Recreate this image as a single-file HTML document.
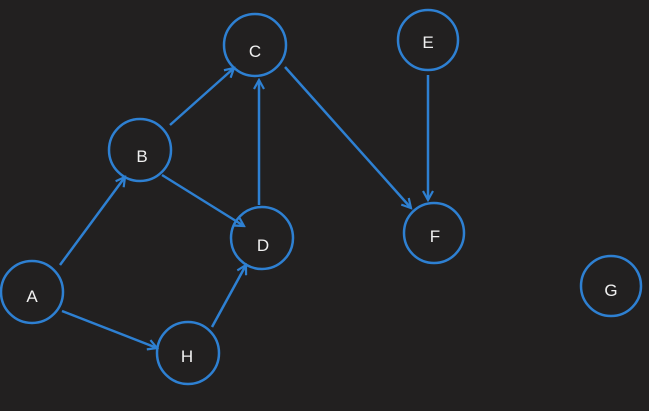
<!DOCTYPE html><html><head><style>body{margin:0;background:#222020}svg{display:block}</style></head><body>
<svg width="649" height="411" viewBox="0 0 649 411" xmlns="http://www.w3.org/2000/svg">
<rect width="649" height="411" fill="#222020"/>
<defs><marker id="a" markerWidth="12" markerHeight="12" refX="10" refY="6" orient="auto" markerUnits="userSpaceOnUse"><path d="M1,1 L10,6 L1,11" fill="none" stroke="#2e80d2" stroke-width="2.2"/></marker></defs>
<g fill="none" stroke="#2e80d2" stroke-width="2.5">
<circle cx="255" cy="45" r="31"/><circle cx="428" cy="40" r="30"/><circle cx="140" cy="150" r="31"/>
<circle cx="262" cy="238" r="31"/><circle cx="434" cy="233" r="30"/><circle cx="32" cy="292" r="31"/>
<circle cx="188" cy="353" r="31"/><circle cx="611" cy="286" r="30"/>
<g marker-end="url(#a)">
<line x1="60" y1="265" x2="125" y2="177"/><line x1="62" y1="311" x2="157" y2="348"/>
<line x1="212" y1="327" x2="246" y2="265"/><line x1="170" y1="125" x2="234" y2="68"/>
<line x1="162" y1="175" x2="244" y2="226"/><line x1="259" y1="205" x2="259" y2="80"/>
<line x1="285" y1="67" x2="411" y2="208"/><line x1="428" y1="75" x2="428" y2="200"/>
</g></g>
<g fill="#f0f0f0" font-family="Liberation Sans, sans-serif" font-size="17" text-anchor="middle">
<text x="255" y="57">C</text><text x="428" y="48">E</text><text x="142" y="162">B</text>
<text x="263" y="251">D</text><text x="435" y="242">F</text><text x="32" y="302">A</text>
<text x="187" y="362">H</text><text x="611" y="296">G</text></g>
</svg></body></html>
